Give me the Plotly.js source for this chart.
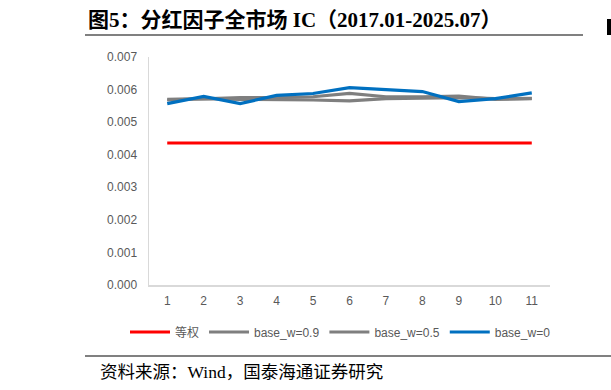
<!DOCTYPE html>
<html><head><meta charset="utf-8">
<script src="https://cdn.plot.ly/plotly-3.0.1.min.js"></script>
<style>html,body{margin:0;padding:0;background:#fff}#c{width:611px;height:390px}</style>
</head><body><div id="c"></div>
<script>
const xLabels = ['1','2','3','4','5','6','7','8','9','10','11'];
const equalW = [0.00436,0.00436,0.00436,0.00436,0.00436,0.00436,0.00436,0.00436,0.00436,0.00436,0.00436];
const base09 = [0.00568,0.00572,0.00575,0.00575,0.00578,0.00588,0.00578,0.00578,0.00580,0.00570,0.00572];
const base05 = [0.00570,0.00572,0.00570,0.00570,0.00568,0.00565,0.00572,0.00574,0.00575,0.00572,0.00573];
const base0  = [0.00557,0.00579,0.00557,0.00582,0.00588,0.00606,0.00600,0.00594,0.00563,0.00572,0.00590];
const names = ['<span style="font-family:Noto Sans CJK SC">等权</span>','base_w=0.9','base_w=0.5','base_w=0'];

const mk = (y,name,color)=>({x:xLabels,y:y,name:name,type:'scatter',mode:'lines',line:{color:color,width:3.2}});
const data = [
  mk(equalW,names[0],'#ff0000'),
  mk(base09,names[1],'#7f7f7f'),
  mk(base05,names[2],'#7f7f7f'),
  mk(base0,names[3],'#0070c0')
];
const W=611,H=390;
const fx=x=>x/W, fy=y=>1-y/H;
const layout = {
  width:W,height:H,
  margin:{l:0,r:0,t:0,b:0,autoexpand:false},
  paper_bgcolor:'#fff',plot_bgcolor:'#fff',
  font:{family:'Liberation Sans, Arial, sans-serif',size:12,color:'#595959'},
  xaxis:{domain:[fx(149),fx(550)],type:'category',range:[-0.5,10.5],showline:true,linecolor:'#d9d9d9',linewidth:1.5,showgrid:false,ticks:'',tickfont:{size:12,color:'#595959'},zeroline:false,ticklabelstandoff:4,automargin:false},
  yaxis:{domain:[fy(285),fy(57)],range:[0,0.007],dtick:0.001,tickformat:'.3f',showline:true,linecolor:'#d9d9d9',linewidth:1.5,showgrid:false,ticks:'',zeroline:false,ticklabelstandoff:8,tickfont:{size:12,color:'#595959'},automargin:false},
  showlegend:true,
  legend:{orientation:'h',x:fx(125),xanchor:'left',y:fy(332),yanchor:'middle',bgcolor:'rgba(0,0,0,0)',font:{size:12,color:'#595959'},itemwidth:40,tracegroupgap:0},
  annotations:[
    {xref:'paper',yref:'paper',x:fx(86),xanchor:'left',y:fy(20),yanchor:'middle',showarrow:false,
     text:'<b>图5：分红因子全市场 IC（2017.01-2025.07）</b>',font:{family:'Liberation Serif, Noto Sans CJK SC, serif',size:21,color:'#000'}},
    {xref:'paper',yref:'paper',x:fx(98),xanchor:'left',y:fy(372),yanchor:'middle',showarrow:false,
     text:'资料来源：Wind，国泰海通证券研究',font:{family:'Liberation Serif, Noto Sans CJK SC, serif',size:17.5,color:'#000'}}
  ],
  shapes:[
    {type:'rect',layer:'above',xref:'paper',yref:'paper',x0:fx(85),x1:fx(583),y0:fy(36),y1:fy(34),fillcolor:'#808080',line:{width:0}},
    {type:'rect',layer:'above',xref:'paper',yref:'paper',x0:fx(85),x1:fx(611),y0:fy(357),y1:fy(355),fillcolor:'#808080',line:{width:0}},
    {type:'rect',layer:'above',xref:'paper',yref:'paper',x0:fx(607),x1:fx(611),y0:fy(35),y1:fy(19),fillcolor:'#000',line:{width:0}}
  ]
};
Plotly.newPlot('c',data,layout,{displayModeBar:false,staticPlot:true});
</script></body></html>
